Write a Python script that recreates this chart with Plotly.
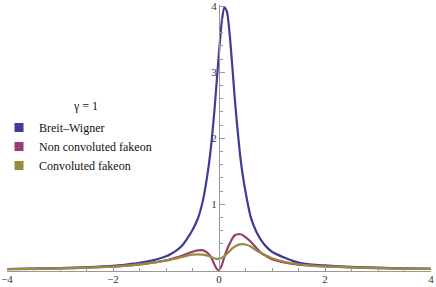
import plotly.graph_objects as go

# ---- data ----
x_vals = [-4, -3.5, -3, -2.5, -2, -1.75, -1.5, -1.25, -1, -0.9, -0.8, -0.7, -0.6, -0.5,
          -0.4, -0.3, -0.2, -0.15, -0.1, -0.05, 0, 0.05, 0.1, 0.15, 0.2, 0.25, 0.3, 0.35,
          0.4, 0.45, 0.5, 0.6, 0.7, 0.8, 0.9, 1.0, 1.25, 1.5, 1.75, 2, 2.5, 3, 3.5, 4]

breit_wigner = [0.018, 0.025, 0.033, 0.045, 0.065, 0.085, 0.11, 0.15, 0.21, 0.25, 0.30, 0.37,
                0.48, 0.61, 0.78, 1.07, 1.55, 1.88, 2.29, 2.79, 3.30, 3.75, 3.99, 3.92, 3.59,
                3.10, 2.58, 2.13, 1.73, 1.43, 1.19, 0.80, 0.59, 0.45, 0.35, 0.28, 0.185,
                0.115, 0.085, 0.072, 0.05, 0.038, 0.028, 0.02]

non_convoluted = [0.016, 0.02, 0.027, 0.037, 0.055, 0.068, 0.088, 0.115, 0.15, 0.17, 0.195,
                  0.22, 0.25, 0.28, 0.30, 0.30, 0.25, 0.20, 0.11, 0.03, 0.0, 0.07, 0.20, 0.31,
                  0.40, 0.48, 0.53, 0.545, 0.545, 0.53, 0.50, 0.43, 0.34, 0.26, 0.21, 0.165,
                  0.115, 0.085, 0.068, 0.058, 0.042, 0.032, 0.025, 0.019]

convoluted = [0.016, 0.02, 0.027, 0.037, 0.055, 0.068, 0.088, 0.115, 0.145, 0.16, 0.18, 0.20,
              0.22, 0.235, 0.24, 0.235, 0.215, 0.20, 0.185, 0.172, 0.175, 0.19, 0.215, 0.25,
              0.29, 0.33, 0.36, 0.38, 0.392, 0.395, 0.39, 0.36, 0.30, 0.26, 0.22, 0.18,
              0.125, 0.09, 0.07, 0.058, 0.042, 0.032, 0.025, 0.019]

series_names = ["Breit\u2013Wigner", "Non convoluted fakeon", "Convoluted fakeon"]
series_values = [breit_wigner, non_convoluted, convoluted]
series_colors = ["#3d3d99", "#993d71", "#998b3d"]

x_tick_vals = [-4, -2, 0, 2, 4]
y_tick_vals = [1, 2, 3, 4]
legend_title = "\u03b3 = 1"

W, H = 436, 287
ML, MR, MT, MB = 7, 5, 5, 16
PW, PH = W - ML - MR, H - MT - MB

def px_x(p):
    return (p - ML) / PW

def px_y(p):
    return 1 - (p - MT) / PH

fig = go.Figure()
for name, vals, col in zip(series_names, series_values, series_colors):
    fig.add_trace(go.Scatter(x=x_vals, y=vals, mode="lines",
                             line=dict(color=col, width=2.2, shape="spline", smoothing=0.6),
                             showlegend=False, hoverinfo="skip"))
for name, col in zip(series_names, series_colors):
    fig.add_trace(go.Scatter(x=[None], y=[None], mode="markers", name=name,
                             marker=dict(symbol="square", size=9, color=col)))

font = "Liberation Serif, Times New Roman, serif"
fig.update_layout(
    template="none",
    width=W, height=H,
    margin=dict(l=ML, r=MR, t=MT, b=MB, autoexpand=False),
    paper_bgcolor="white", plot_bgcolor="white",
    font=dict(family=font, size=11, color="#333333"),
    showlegend=True,
    legend=dict(x=px_x(-1), y=px_y(113), xanchor="left", yanchor="top",
                bgcolor="rgba(0,0,0,0)", borderwidth=0,
                font=dict(family=font, size=12, color="#111111"),
                tracegroupgap=0),
    annotations=[dict(text=legend_title, x=px_x(85), y=px_y(106), xref="paper", yref="paper",
                      xanchor="center", yanchor="middle", showarrow=False,
                      font=dict(family=font, size=12, color="#111111"))],
    xaxis=dict(range=[-4, 4], tickvals=x_tick_vals, ticks="inside", ticklen=5, tickcolor="#999999",
               automargin=False, ticklabelstandoff=-2,
               showline=True, linecolor="#999999", linewidth=1, showgrid=False, zeroline=False,
               minor=dict(dtick=0.5, tick0=0, ticks="inside", ticklen=3, tickcolor="#999999"),
               tickfont=dict(family=font, size=11, color="#333333")),
    yaxis=dict(range=[-0.012, 4.02], tickvals=y_tick_vals, ticks="inside", ticklen=5, tickcolor="#999999",
               anchor="free", position=0.5, automargin=False,
               showline=True, linecolor="#999999", linewidth=1, showgrid=False, zeroline=False,
               minor=dict(dtick=0.2, tick0=0, ticks="inside", ticklen=3, tickcolor="#999999"),
               tickfont=dict(family=font, size=11, color="#333333")),
)
fig.write_html("out.html", config={"displayModeBar": False},
               post_script="document.body.style.margin='0';document.body.style.padding='0';")
